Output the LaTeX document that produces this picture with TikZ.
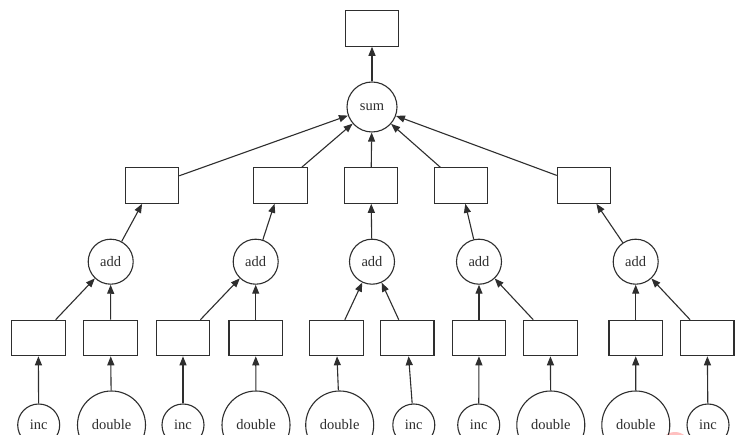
\documentclass[tikz,border=0pt]{standalone}
\usepackage{fontspec}
\setmainfont{Liberation Serif}
\usetikzlibrary{arrows.meta}
\definecolor{ink}{HTML}{2E2E2E}
\begin{document}
\begin{tikzpicture}[x=1pt,y=-1pt,
  every node/.style={font=\fontsize{14.5}{16}\selectfont, text=ink},
  box/.style={draw=ink, line width=1.1pt, minimum width=53.5pt, minimum height=35.5pt, inner sep=0pt},
  op/.style={draw=ink, line width=1.1pt, circle, inner sep=0pt},
  conn/.style={draw=ink, line width=1.1pt, -{Triangle[length=9pt,width=7pt]}}]
\clip (0,0) rectangle (752,435);
\fill[white] (0,0) rectangle (752,435);
% faint artifact
\fill[red!35, opacity=0.7] (675,447) circle (15);
% top
\node[box] (top) at (372,28.5) {};
\node[op, minimum size=50pt] (sum) at (372,107) {sum};
% row 2 boxes
\node[box] (r1) at (152,185.5) {};
\node[box] (r2) at (280.5,185.5) {};
\node[box] (r3) at (371,185.5) {};
\node[box] (r4) at (461,185.5) {};
\node[box] (r5) at (584,185.5) {};
% add circles
\node[op, minimum size=45pt] (a1) at (110.7,261.7) {add};
\node[op, minimum size=45pt] (a2) at (255.7,261.7) {add};
\node[op, minimum size=45pt] (a3) at (372,261.7) {add};
\node[op, minimum size=45pt] (a4) at (479,261.7) {add};
\node[op, minimum size=45pt] (a5) at (635.7,261.7) {add};
% bottom boxes
\node[box] (b1) at (38.3,338) {};
\node[box] (b2) at (110.5,338) {};
\node[box] (b3) at (183,338) {};
\node[box] (b4) at (255.7,338) {};
\node[box] (b5) at (336.3,338) {};
\node[box] (b6) at (407.2,338) {};
\node[box] (b7) at (479,338) {};
\node[box] (b8) at (550.3,338) {};
\node[box] (b9) at (635.7,338) {};
\node[box] (b10) at (707.2,338) {};
% leaf circles
\node[op, minimum size=42pt] (l1) at (38.7,425) {inc};
\node[op, minimum size=68pt] (l2) at (111.5,425) {double};
\node[op, minimum size=42pt] (l3) at (183,425) {inc};
\node[op, minimum size=68pt] (l4) at (256,425) {double};
\node[op, minimum size=68pt] (l5) at (339.7,425) {double};
\node[op, minimum size=42pt] (l6) at (413.8,425) {inc};
\node[op, minimum size=42pt] (l7) at (478.7,425) {inc};
\node[op, minimum size=68pt] (l8) at (550.8,425) {double};
\node[op, minimum size=68pt] (l9) at (635.8,425) {double};
\node[op, minimum size=42pt] (l10) at (708,425) {inc};
% connectors
\draw[conn] (sum) -- (top);
\foreach \r in {r1,r2,r3,r4,r5} \draw[conn] (\r) -- (sum);
\draw[conn] (a1) -- (r1);
\draw[conn] (a2) -- (r2);
\draw[conn] (a3) -- (r3);
\draw[conn] (a4) -- (r4);
\draw[conn] (a5) -- (r5);
\draw[conn] (b1) -- (a1);
\draw[conn] (b2) -- (a1);
\draw[conn] (b3) -- (a2);
\draw[conn] (b4) -- (a2);
\draw[conn] (b5) -- (a3);
\draw[conn] (b6) -- (a3);
\draw[conn] (b7) -- (a4);
\draw[conn] (b8) -- (a4);
\draw[conn] (b9) -- (a5);
\draw[conn] (b10) -- (a5);
\foreach \i in {1,...,10} \draw[conn] (l\i) -- (b\i);
\end{tikzpicture}
\end{document}
